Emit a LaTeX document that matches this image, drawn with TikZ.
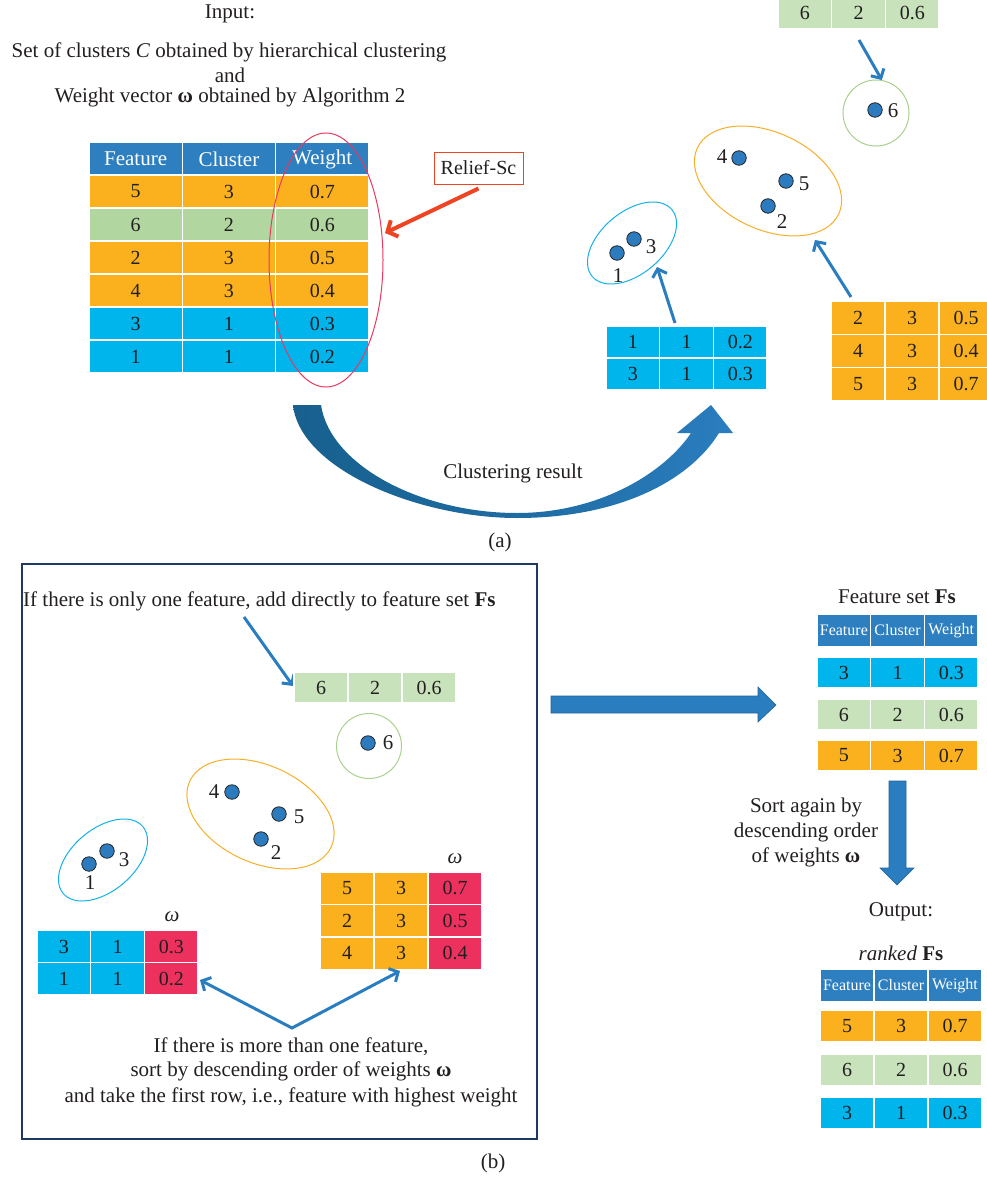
\documentclass[tikz,border=0pt]{standalone}
\usepackage{fontspec}
\setmainfont{Liberation Serif}
\usetikzlibrary{arrows.meta,shapes.geometric}
\definecolor{hdr}{RGB}{46,127,192}
\definecolor{org}{RGB}{251,177,30}
\definecolor{grnA}{RGB}{178,214,160}
\definecolor{grnB}{RGB}{200,226,187}
\definecolor{cyn}{RGB}{0,180,236}
\definecolor{crm}{RGB}{236,49,94}
\definecolor{arr}{RGB}{42,125,191}
\definecolor{darr}{RGB}{23,96,142}
\definecolor{dotc}{RGB}{43,123,190}
\definecolor{ellred}{RGB}{232,58,95}
\definecolor{reliefc}{RGB}{238,68,35}
\definecolor{boxc}{RGB}{31,56,100}
\definecolor{ellorg}{RGB}{247,175,40}
\definecolor{ellcyn}{RGB}{20,176,232}
\definecolor{ellgrn}{RGB}{169,209,142}
\definecolor{txtc}{RGB}{35,31,32}
\newcommand{\trow}[8]{%
  \tikzset{rowA/.style={#6},rowB/.style={#8}}%
  \foreach \ct [count=\i] in {#7}{%
    \ifnum\i<3 \tikzset{rowC/.style={rowA}}\else\tikzset{rowC/.style={rowB}}\fi
    \node[cell,rowC,minimum width=#4pt,minimum height=#5pt] (#1-\i) at ({#2+(\i-0.5)*#4},{-#3}) {\ct};}}
\begin{document}
\begin{tikzpicture}[x=1pt,y=1pt,
  every node/.style={text=txtc,font=\fontsize{21}{25}\selectfont},
  cell/.style={draw=white,line width=1.5pt,inner sep=0pt,font=\fontsize{20}{24}\selectfont},
  hcell/.style={fill=hdr,text=white,font=\fontsize{21}{24}\selectfont},
  scell/.style={fill=hdr,text=white,font=\fontsize{16}{18}\selectfont},
  dotn/.style={circle,fill=dotc,draw=black!85,line width=0.8pt,minimum size=14.5pt,inner sep=0pt},
  lab/.style={inner sep=0pt},
  barrow/.style={draw=arr,line width=3pt,-{Straight Barb[length=7pt,width=15pt]}},
  ell/.style={ellipse,line width=1pt,inner sep=0pt}]
\useasboundingbox (0,0) rectangle (986,-1180);

% ---------------- (a) ----------------
\node (in) at (230,-14) {Input:};
\node (set) at (229,-52) {Set of clusters \textit{C} obtained by hierarchical clustering};
\node (and) at (230,-75) {and};
\node (wv) at (230,-97) {Weight vector \textbf{ω} obtained by Algorithm 2};

\trow{ta0}{89}{159}{93.3}{33}{hcell}{Feature,Cluster,Weight}{hcell}
\trow{ta1}{89}{191.5}{93.3}{33}{fill=org}{5,3,0.7}{fill=org}
\trow{ta2}{89}{224.5}{93.3}{33}{fill=grnA}{6,2,0.6}{fill=grnA}
\trow{ta3}{89}{257.5}{93.3}{33}{fill=org}{2,3,0.5}{fill=org}
\trow{ta4}{89}{290.5}{93.3}{33}{fill=org}{4,3,0.4}{fill=org}
\trow{ta5}{89}{323.5}{93.3}{33}{fill=cyn}{3,1,0.3}{fill=cyn}
\trow{ta6}{89}{356.5}{93.3}{33}{fill=cyn}{1,1,0.2}{fill=cyn}

\node[ell,draw=ellred,minimum width=114pt,minimum height=254pt] (sel) at (326,-260) {};
\node[draw=reliefc,fill=white,line width=1pt,minimum width=89pt,minimum height=32pt,inner sep=0pt,font=\fontsize{20}{24}\selectfont] (rel) at (478.5,-168) {Relief-Sc};
\coordinate (rtip) at (385,-233);
\draw[reliefc,line width=4pt,-{Straight Barb[length=8pt,width=18pt]}] ([yshift=-4pt]rel.south) -- (rtip);

% top-right clusters
\trow{g0}{778}{12.5}{53.7}{33}{fill=grnB}{6,2,0.6}{fill=grnB}
\node[circle,draw=ellgrn,line width=1pt,minimum size=66pt] (c6) at (876,-113) {};
\node[dotn] (d6) at (875,-110) {};
\node[lab] (l6) at (893,-111) {6};
\coordinate (g0s) at (859,-40);
\draw[barrow] (g0s) -- (c6.80);

\node[ell,draw=ellorg,minimum width=156pt,minimum height=97pt,rotate=-25] (eo) at (768,-181) {};
\node[dotn] (d4) at (739,-158) {};
\node[lab] (l4) at (722,-157) {4};
\node[dotn] (d5) at (786,-181) {};
\node[lab] (l5) at (804,-184) {5};
\node[dotn] (d2) at (768,-206) {};
\node[lab] (l2) at (782,-222) {2};

\node[ell,draw=ellcyn,minimum width=104pt,minimum height=62pt,rotate=40] (ec) at (632,-243) {};
\node[dotn] (d1) at (617,-253) {};
\node[lab] (l1) at (618,-276) {1};
\node[dotn] (d3) at (634,-239) {};
\node[lab] (l3) at (651,-247) {3};

\trow{tc1}{606}{342}{53.7}{32}{fill=cyn}{1,1,0.2}{fill=cyn}
\trow{tc2}{606}{374}{53.7}{32}{fill=cyn}{3,1,0.3}{fill=cyn}
\coordinate (tcs) at (675,-323);
\coordinate (ect) at (657,-267);
\draw[barrow] (tcs) -- (ect);

\trow{to1}{831}{318}{54}{33}{fill=org}{2,3,0.5}{fill=org}
\trow{to2}{831}{351}{54}{33}{fill=org}{4,3,0.4}{fill=org}
\trow{to3}{831}{384}{54}{33}{fill=org}{5,3,0.7}{fill=org}
\coordinate (tos) at (851,-297);
\coordinate (eot) at (815,-240);
\draw[barrow] (tos) -- (eot);

% big curved arrow
\shade[left color=darr,right color=arr,middle color=darr!60!arr]
  (293,-405) .. controls (300,-470) and (420,-518) .. (517,-518)
  .. controls (620,-518) and (690,-480) .. (719,-433)
  -- (733,-433) -- (711,-405) -- (677,-433) -- (691,-433)
  .. controls (665,-472) and (600,-513) .. (517,-513)
  .. controls (420,-513) and (330,-465) .. (321,-405) -- cycle;
\node (cr) at (513,-473) {Clustering result};
\node (pa) at (500,-542) {(a)};

% ---------------- (b) ----------------
\node[draw=boxc,line width=1.2pt,minimum width=515pt,minimum height=575pt,inner sep=0pt] (bx) at (279.5,-851.5) {};
\node[anchor=west,inner sep=0pt] (t1) at (23,-601) {If there is only one feature, add directly to feature set \textbf{Fs}};
\coordinate (t1s) at (244,-617);
\coordinate (gbt) at (293,-686);
\draw[barrow] (t1s) -- (gbt);

\trow{gb}{294}{687.5}{54}{31}{fill=grnB}{6,2,0.6}{fill=grnB}
\node[circle,draw=ellgrn,line width=1pt,minimum size=65pt] (c6b) at (369,-746) {};
\node[dotn] (d6b) at (368,-743) {};
\node[lab] (l6b) at (388,-743) {6};

\node[ell,draw=ellorg,minimum width=156pt,minimum height=97pt,rotate=-25] (eob) at (260.5,-814) {};
\node[dotn] (d4b) at (232,-792) {};
\node[lab] (l4b) at (214,-792) {4};
\node[dotn] (d5b) at (279,-814) {};
\node[lab] (l5b) at (299,-817) {5};
\node[dotn] (d2b) at (261,-839) {};
\node[lab] (l2b) at (276,-853) {2};

\node[ell,draw=ellcyn,minimum width=104pt,minimum height=62pt,rotate=40] (ecb) at (103,-860) {};
\node[dotn] (d1b) at (89,-864) {};
\node[lab] (l1b) at (90,-883) {1};
\node[dotn] (d3b) at (107,-851) {};
\node[lab] (l3b) at (124,-860) {3};

\node (wc) at (172,-917) {\textit{ω}};
\trow{cb1}{37}{946.5}{53.7}{32}{fill=cyn}{3,1,0.3}{fill=crm}
\trow{cb2}{37}{978.5}{53.7}{32}{fill=cyn}{1,1,0.2}{fill=crm}
\node (wo) at (455,-859) {\textit{ω}};
\trow{ob1}{320}{888}{54}{32.5}{fill=org}{5,3,0.7}{fill=crm}
\trow{ob2}{320}{920.5}{54}{32.5}{fill=org}{2,3,0.5}{fill=crm}
\trow{ob3}{320}{953}{54}{32.5}{fill=org}{4,3,0.4}{fill=crm}

\coordinate (vl) at (200,-980);
\coordinate (vv) at (292,-1028);
\coordinate (vr) at (400,-971);
\draw[draw=arr,line width=3pt,{Straight Barb[length=7pt,width=15pt]}-{Straight Barb[length=7pt,width=15pt]}] (vl) -- (vv) -- (vr);

\node (m1) at (291,-1047) {If there is more than one feature,};
\node (m2) at (291,-1071) {sort by descending order of weights \textbf{ω}};
\node (m3) at (291,-1097) {and take the first row, i.e., feature with highest weight};
\node (pb) at (493,-1163) {(b)};

% right side
\filldraw[fill=arr,draw=arr!80!black,line width=0.6pt] (551,-696) -- (758,-696) -- (758,-687) -- (776,-705) -- (758,-722) -- (758,-713) -- (551,-713) -- cycle;

\node (fs) at (897,-597) {Feature set \textbf{Fs}};
\trow{fh}{817}{630.5}{53.7}{33}{scell}{Feature,Cluster,Weight}{scell}
\trow{f1}{817}{672.5}{53.7}{31}{fill=cyn}{3,1,0.3}{fill=cyn}
\trow{f2}{817}{714.5}{53.7}{31}{fill=grnB}{6,2,0.6}{fill=grnB}
\trow{f3}{817}{755.5}{53.7}{31}{fill=org}{5,3,0.7}{fill=org}

\filldraw[fill=arr,draw=arr!80!black,line width=0.6pt] (889,-781) -- (906,-781) -- (906,-868) -- (914,-868) -- (897,-885) -- (880,-868) -- (889,-868) -- cycle;
\node (s1) at (806,-807) {Sort again by};
\node (s2) at (806,-832) {descending order};
\node (s3) at (806,-857) {of weights \textbf{ω}};

\node (op) at (901,-912) {Output:};
\node (rk) at (901,-953) {\textit{ranked} \textbf{Fs}};
\trow{rh}{820}{985.5}{54}{33}{scell}{Feature,Cluster,Weight}{scell}
\trow{r1}{820}{1026}{54}{32}{fill=org}{5,3,0.7}{fill=org}
\trow{r2}{820}{1070}{54}{32}{fill=grnB}{6,2,0.6}{fill=grnB}
\trow{r3}{820}{1113}{54}{32}{fill=cyn}{3,1,0.3}{fill=cyn}
\end{tikzpicture}
\end{document}
